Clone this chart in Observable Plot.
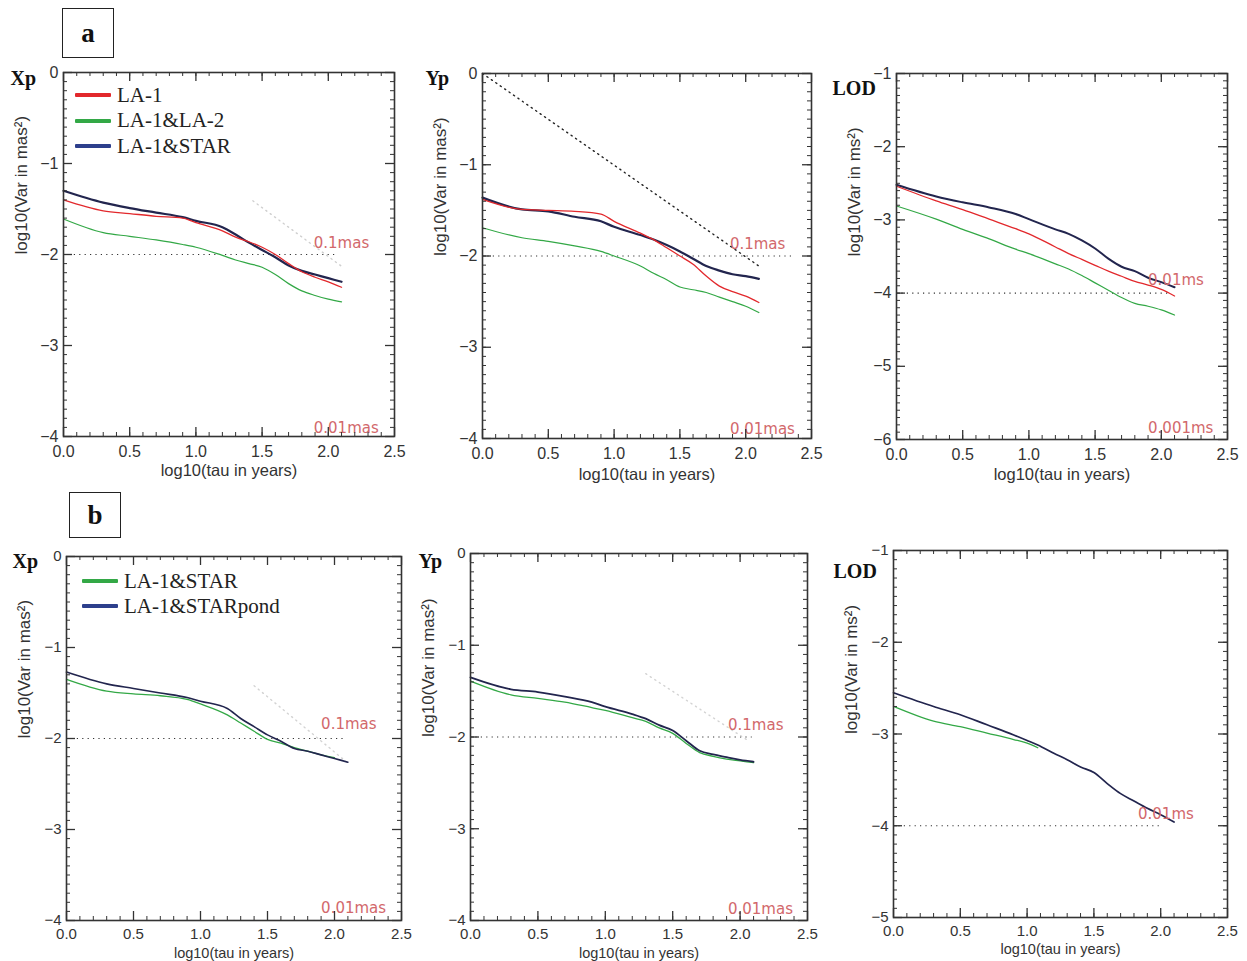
<!DOCTYPE html>
<html><head><meta charset="utf-8">
<script src="https://cdn.jsdelivr.net/npm/d3@7"></script>
<script src="https://cdn.jsdelivr.net/npm/@observablehq/plot@0.6"></script>
<style>
body{margin:0;background:#fff;overflow:hidden}
#root{position:relative;width:1247px;height:961px;background:#fff}
.panel{position:absolute}
.box{position:absolute;border:1.5px solid #222;box-sizing:border-box;font:bold 27px "Liberation Serif",serif;color:#111;display:flex;align-items:center;justify-content:center}
.leg{position:absolute;font:21px "Liberation Serif",serif;color:#222;white-space:nowrap}
.row{position:absolute;display:flex;align-items:center;height:24px}
.sw{display:inline-block;width:36px;height:4px;margin-right:6px;border-radius:1px}
</style></head>
<body><div id="root"></div>
<script>
// ---------- data ----------
const tauA = [0.0,0.3,0.5,0.7,0.9,1.0,1.2,1.3,1.4,1.5,1.6,1.7,1.8,1.9,2.0,2.1];

// panel a : Xp
const xpA_LA1     = [-1.40,-1.52,-1.55,-1.58,-1.60,-1.65,-1.74,-1.81,-1.86,-1.92,-2.00,-2.10,-2.19,-2.25,-2.30,-2.36];
const xpA_LA1LA2  = [-1.61,-1.76,-1.80,-1.84,-1.89,-1.92,-2.01,-2.06,-2.10,-2.14,-2.22,-2.32,-2.40,-2.45,-2.49,-2.52];
const xpA_LA1STAR = [-1.30,-1.43,-1.49,-1.54,-1.59,-1.63,-1.70,-1.78,-1.87,-1.95,-2.03,-2.12,-2.18,-2.22,-2.26,-2.30];
// panel a : Yp
const ypA_LA1     = [-1.38,-1.49,-1.50,-1.51,-1.54,-1.62,-1.75,-1.82,-1.91,-2.00,-2.09,-2.22,-2.33,-2.39,-2.44,-2.51];
const ypA_LA1LA2  = [-1.69,-1.80,-1.84,-1.89,-1.95,-2.00,-2.11,-2.19,-2.26,-2.34,-2.37,-2.40,-2.45,-2.50,-2.55,-2.62];
const ypA_LA1STAR = [-1.36,-1.49,-1.51,-1.57,-1.62,-1.68,-1.77,-1.82,-1.88,-1.95,-2.03,-2.11,-2.16,-2.20,-2.22,-2.25];
// panel a : LOD
const lodA_LA1     = [-2.54,-2.74,-2.86,-2.99,-3.12,-3.19,-3.37,-3.46,-3.54,-3.62,-3.70,-3.77,-3.84,-3.89,-3.95,-4.04];
const lodA_LA1LA2  = [-2.81,-2.99,-3.13,-3.26,-3.40,-3.46,-3.60,-3.67,-3.76,-3.86,-3.96,-4.06,-4.14,-4.18,-4.23,-4.30];
const lodA_LA1STAR = [-2.52,-2.68,-2.76,-2.83,-2.92,-2.99,-3.13,-3.19,-3.28,-3.39,-3.53,-3.64,-3.70,-3.79,-3.85,-3.92];
// panel b : Xp
const xpB_STAR     = [-1.35,-1.48,-1.51,-1.53,-1.57,-1.62,-1.74,-1.83,-1.92,-2.01,-2.05,-2.10,-2.14,-2.18,-2.21,NaN];
const xpB_STARpond = [-1.27,-1.40,-1.45,-1.50,-1.55,-1.59,-1.67,-1.78,-1.87,-1.96,-2.03,-2.11,-2.14,-2.18,-2.22,-2.26];
// panel b : Yp
const ypB_STAR     = [-1.39,-1.54,-1.58,-1.62,-1.68,-1.71,-1.79,-1.83,-1.90,-1.96,-2.07,-2.17,-2.21,-2.24,-2.26,-2.28];
const ypB_STARpond = [-1.35,-1.48,-1.51,-1.56,-1.62,-1.67,-1.75,-1.80,-1.87,-1.93,-2.04,-2.15,-2.19,-2.22,-2.25,-2.27];
// panel b : LOD
const tauLodB      = [0.0,0.3,0.5,0.7,0.9,1.0,1.08,1.2,1.3,1.4,1.5,1.6,1.7,1.8,1.9,2.0,2.1];
const lodB_STAR     = [-2.70,-2.86,-2.92,-2.99,-3.06,-3.10,-3.15,NaN,NaN,NaN,NaN,NaN,NaN,NaN,NaN,NaN,NaN];
const lodB_STARpond = [-2.55,-2.70,-2.79,-2.90,-3.01,-3.07,-3.12,-3.21,-3.28,-3.36,-3.42,-3.54,-3.65,-3.73,-3.81,-3.88,-3.96];

// reference lines  (level, end of dotted line) and slope lines
const hrefLevel = {xpA:-2, ypA:-2, lodA:-4, xpB:-2, ypB:-2, lodB:-4};
const hrefEnd   = {xpA:2.08, ypA:2.38, lodA:2.08, xpB:2.07, ypB:2.09, lodB:2.02};
const slopeX = {xpA:[1.43,2.11], ypA:[0.0,2.1], xpB:[1.40,2.1], ypB:[1.30,2.06]};
const slopeY = {xpA:[-1.41,-2.14], ypA:[0.0,-2.11], xpB:[-1.42,-2.27], ypB:[-1.31,-2.04]};

// annotation labels
const noteText = {xpA:["0.1mas","0.01mas"], ypA:["0.1mas","0.01mas"], lodA:["0.01ms","0.001ms"], xpB:["0.1mas","0.01mas"], ypB:["0.1mas","0.01mas"], lodB:["0.01ms"]};
const noteX = {xpA:[1.89,1.89], ypA:[1.88,1.88], lodA:[1.90,1.90], xpB:[1.90,1.90], ypB:[1.91,1.91], lodB:[1.83]};
const noteY = {xpA:[-1.88,-3.91], ypA:[-1.87,-3.90], lodA:[-3.83,-5.85], xpB:[-1.84,-3.87], ypB:[-1.87,-3.88], lodB:[-3.87]};

// ticks
const xMajor = [0.0,0.5,1.0,1.5,2.0,2.5];
const yMajorPM = [0,-1,-2,-3,-4];
const yMajorLodA = [-1,-2,-3,-4,-5,-6];
const yMajorLodB = [-1,-2,-3,-4,-5];

const seriesA = ["LA-1","LA-1&LA-2","LA-1&STAR"];
const seriesB = ["LA-1&STAR","LA-1&STARpond"];
const titles = {xpA:"Xp", ypA:"Yp", lodA:"LOD", xpB:"Xp", ypB:"Yp", lodB:"LOD"};
const yLabels = {xpA:"log10(Var in mas²)", ypA:"log10(Var in mas²)", lodA:"log10(Var in ms²)", xpB:"log10(Var in mas²)", ypB:"log10(Var in mas²)", lodB:"log10(Var in ms²)"};
const xLabel = "log10(tau in years)";

// ---------- styling ----------
const RED = "#e2282c", GREEN = "#33a846", DARK = "#22254e", BLUE = "#2d3f8c";
const NOTE = "#d2686b";
const ML = 72, MR = 20, MT = 14, MB = 40;

const panels = [
  {key:"xpA", L:63,  R:394,  T:72,  B:436, yDom:[-4,0], yMaj:yMajorPM, title:{dx:-53,dy:6}, xlabDy:34, xlabFs:16.5, tp:9, tfs:16,
   lines:[{tau:tauA, v:xpA_LA1LA2, c:GREEN, w:1.2},{tau:tauA, v:xpA_LA1STAR, c:DARK, w:2.2},{tau:tauA, v:xpA_LA1, c:RED, w:1.3}], slopeColor:"#cfcfcf"},
  {key:"ypA", L:482, R:811,  T:73,  B:438, yDom:[-4,0], yMaj:yMajorPM, title:{dx:-57,dy:5}, xlabDy:36, xlabFs:16.5, tp:9, tfs:16,
   lines:[{tau:tauA, v:ypA_LA1LA2, c:GREEN, w:1.2},{tau:tauA, v:ypA_LA1STAR, c:DARK, w:2.2},{tau:tauA, v:ypA_LA1, c:RED, w:1.3}], slopeColor:"#222"},
  {key:"lodA", L:896, R:1227, T:73, B:439, yDom:[-6,-1], yMaj:yMajorLodA, title:{dx:-64,dy:15}, xlabDy:35, xlabFs:16.5, tp:9, tfs:16,
   lines:[{tau:tauA, v:lodA_LA1LA2, c:GREEN, w:1.2},{tau:tauA, v:lodA_LA1STAR, c:DARK, w:2},{tau:tauA, v:lodA_LA1, c:RED, w:1.3}]},
  {key:"xpB", L:66,  R:401,  T:556, B:920, yDom:[-4,0], yMaj:yMajorPM, title:{dx:-54,dy:5}, xlabDy:33, xlabFs:14.5, tp:8, tfs:15,
   lines:[{tau:tauA, v:xpB_STAR, c:GREEN, w:1.3},{tau:tauA, v:xpB_STARpond, c:DARK, w:1.6}], slopeColor:"#d3d3d3"},
  {key:"ypB", L:470, R:807,  T:553, B:920, yDom:[-4,0], yMaj:yMajorPM, title:{dx:-52,dy:8}, xlabDy:33, xlabFs:14.5, tp:8, tfs:15,
   lines:[{tau:tauA, v:ypB_STAR, c:GREEN, w:1.3},{tau:tauA, v:ypB_STARpond, c:DARK, w:1.8}], slopeColor:"#d3d3d3"},
  {key:"lodB", L:893, R:1227, T:550, B:917, yDom:[-5,-1], yMaj:yMajorLodB, title:{dx:-60,dy:21}, xlabDy:32, xlabFs:14.5, tp:8, tfs:15,
   lines:[{tau:tauLodB, v:lodB_STAR, c:GREEN, w:1.3},{tau:tauLodB, v:lodB_STARpond, c:DARK, w:1.7}]}
];

const root = document.getElementById("root");

for (const p of panels) {
  const fw = p.R - p.L, fh = p.B - p.T;
  const xMinor = d3.range(0, 2.5001, 0.1);
  const yMinor = d3.range(p.yDom[0], p.yDom[1] + 0.0001, 0.1);
  const k = p.key;
  const marks = [
    Plot.ruleY([hrefLevel[k]], {x1: 0, x2: hrefEnd[k], stroke: "#333", strokeWidth: 1.2, strokeDasharray: "1.2,4.2"}),
  ];
  if (slopeX[k]) {
    marks.push(Plot.line(slopeX[k].map((x, i) => ({x, y: slopeY[k][i]})),
      {x: "x", y: "y", stroke: p.slopeColor, strokeWidth: 1.4, strokeDasharray: "1.2,4.2"}));
  }
  for (const s of p.lines) {
    marks.push(Plot.line(s.tau.map((t, i) => ({x: t, y: s.v[i]})),
      {x: "x", y: "y", stroke: s.c, strokeWidth: s.w, curve: "monotone-x"}));
  }
  marks.push(Plot.text(noteText[k].map((t, i) => ({t, x: noteX[k][i], y: noteY[k][i]})),
    {x: "x", y: "y", text: "t", fill: NOTE, fontSize: 15, textAnchor: "start", fontFamily: "DejaVu Sans"}));
  marks.push(
    Plot.ruleX(xMinor, {x: d => d, insetTop: fh - 4, stroke: "#333"}),
    Plot.ruleX(xMinor, {x: d => d, insetBottom: fh - 4, stroke: "#333"}),
    Plot.ruleX(xMajor, {x: d => d, insetTop: fh - 9, stroke: "#333", strokeWidth: 1.3}),
    Plot.ruleX(xMajor, {x: d => d, insetBottom: fh - 9, stroke: "#333", strokeWidth: 1.3}),
    Plot.ruleY(yMinor, {y: d => d, insetRight: fw - 4, stroke: "#333"}),
    Plot.ruleY(yMinor, {y: d => d, insetLeft: fw - 4, stroke: "#333"}),
    Plot.ruleY(p.yMaj, {y: d => d, insetRight: fw - 9, stroke: "#333", strokeWidth: 1.3}),
    Plot.ruleY(p.yMaj, {y: d => d, insetLeft: fw - 9, stroke: "#333", strokeWidth: 1.3}),
    Plot.frame({stroke: "#333", strokeWidth: 1.6}),
    Plot.axisX({ticks: xMajor, tickSize: 0, tickPadding: p.tp, tickFormat: d3.format(".1f"), label: null, fontSize: p.tfs}),
    Plot.axisY({ticks: p.yMaj, tickSize: 0, tickPadding: 5, tickFormat: d3.format("d"), label: null, fontSize: p.tfs}),
    Plot.text([xLabel], {frameAnchor: "bottom", dy: p.xlabDy, text: d => d, fontSize: p.xlabFs, lineAnchor: "middle"}),
    Plot.text([yLabels[k]], {frameAnchor: "left", dx: -42, rotate: -90, text: d => d, fontSize: 17, lineAnchor: "middle"}),
    Plot.text([titles[k]], {frameAnchor: "top-left", dx: p.title.dx, dy: p.title.dy, text: d => d, textAnchor: "start", lineAnchor: "middle",
      fontFamily: "Liberation Serif", fontWeight: "bold", fontSize: 20, fill: "#111"})
  );
  const chart = Plot.plot({
    width: ML + fw + MR,
    height: MT + fh + MB,
    marginLeft: ML, marginRight: MR, marginTop: MT, marginBottom: MB,
    x: {domain: [0, 2.5], label: null},
    y: {domain: p.yDom, label: null},
    style: {fontFamily: "Liberation Sans, Arial, sans-serif", fontSize: "16px", color: "#333", background: "transparent", overflow: "visible"},
    marks
  });
  chart.classList.add("panel");
  chart.style.left = (p.L - ML) + "px";
  chart.style.top = (p.T - MT) + "px";
  chart.style.position = "absolute";
  root.appendChild(chart);
}

function box(letter, left, top, w, h) {
  const d = document.createElement("div");
  d.className = "box";
  Object.assign(d.style, {left: left + "px", top: top + "px", width: w + "px", height: h + "px"});
  d.textContent = letter;
  root.appendChild(d);
}
box("a", 62, 8, 52, 50);
box("b", 69, 492, 52, 46);

function legend(names, colors, left, top, step) {
  names.forEach((n, i) => {
    const r = document.createElement("div");
    r.className = "leg row";
    r.style.left = left + "px";
    r.style.top = (top + i * step - 12) + "px";
    const sw = document.createElement("span");
    sw.className = "sw";
    sw.style.background = colors[i];
    r.appendChild(sw);
    r.appendChild(document.createTextNode(n));
    root.appendChild(r);
  });
}
legend(seriesA, [RED, GREEN, BLUE], 75, 95, 25.5);
legend(seriesB, [GREEN, BLUE], 82, 581, 25);
</script>
</body></html>
